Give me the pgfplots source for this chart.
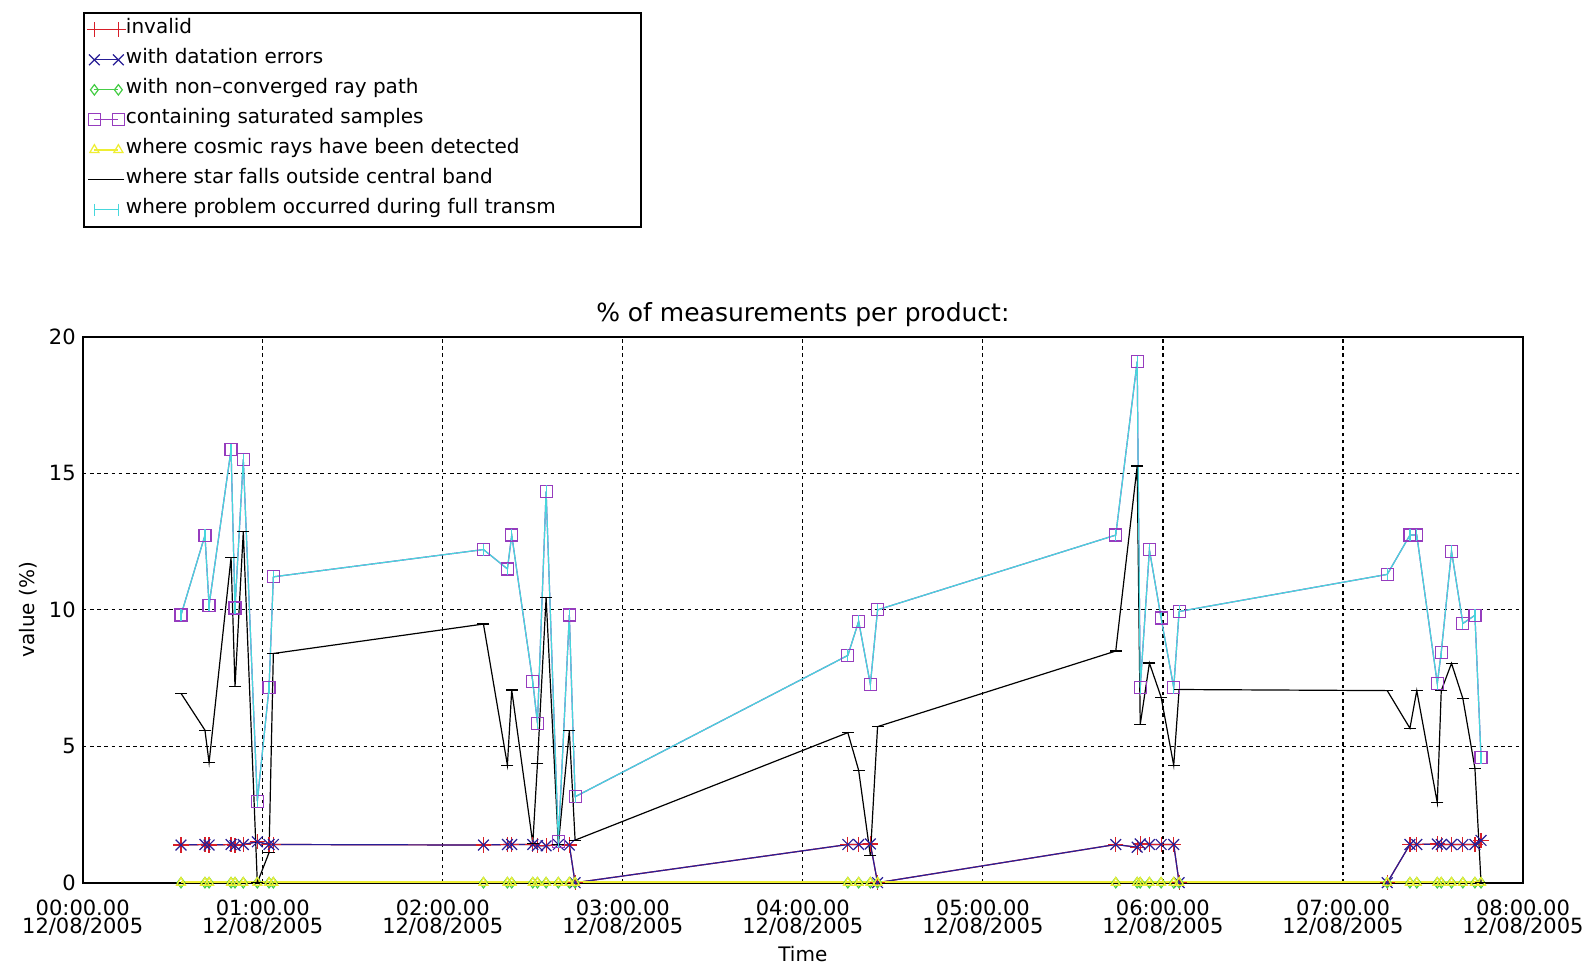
\documentclass[border=0pt]{standalone}
\usepackage{fontspec}
\setmainfont{DejaVu Sans}
\usepackage{pgfplots}
\usepackage{pgfplotstable}
\pgfplotsset{compat=1.18}

\definecolor{invred}{RGB}{215,30,40}
\definecolor{datblue}{RGB}{40,30,150}
\definecolor{ncgreen}{RGB}{70,205,70}
\definecolor{satpurple}{RGB}{150,60,190}
\definecolor{cosyellow}{RGB}{238,238,50}
\definecolor{ftrcyan}{RGB}{70,215,220}

% t = hours after 00:00 on 12/08/2005
\pgfplotstableread{
t     inv  dat  nc  sat    cos  star   ftr
0.546 1.38 1.38 0   9.81   0    6.94   9.81
0.679 1.40 1.40 0   12.73  0    5.59   12.73
0.702 1.38 1.38 0   10.17  0    4.40   10.17
0.824 1.40 1.40 0   15.87  0    11.92  15.87
0.846 1.36 1.36 0   10.07  0    7.18   10.07
0.892 1.40 1.40 0   15.51  0    12.86  15.51
0.970 1.50 1.50 0   2.99   0    0.00   2.99
1.035 1.40 1.40 0   7.14   0    1.10   7.14
1.059 1.40 1.40 0   11.21  0    8.40   11.21
2.226 1.38 1.38 0   12.21  0    9.48   12.21
2.359 1.40 1.40 0   11.50  0    4.31   11.50
2.383 1.40 1.40 0   12.74  0    7.06   12.74
2.500 1.40 1.40 0   7.36   0    1.44   7.36
2.526 1.36 1.36 0   5.84   0    4.37   5.84
2.574 1.35 1.35 0   14.34  0    10.45  14.34
2.642 1.40 1.40 0   1.50   0    1.40   1.50
2.703 1.38 1.38 0   9.81   0    5.57   9.81
2.735 0    0    0   3.15   0    1.56   3.15
4.250 1.40 1.40 0   8.33   0    5.50   8.33
4.310 1.40 1.40 0   9.58   0    4.12   9.58
4.375 1.42 1.42 0   7.27   0    1.00   7.27
4.415 0    0    0   10.00  0    5.72   10.00
5.738 1.40 1.40 0   12.74  0    8.49   12.74
5.857 1.30 1.30 0   19.10  0    15.27  19.10
5.874 1.42 1.42 0   7.15   0    5.80   7.15
5.925 1.40 1.40 0   12.20  0    8.05   12.20
5.990 1.40 1.40 0   9.70   0    6.80   9.70
6.060 1.40 1.40 0   7.15   0    4.30   7.15
6.090 0    0    0   9.94   0    7.08   9.94
7.246 0    0    0   11.30  0    7.04   11.30
7.372 1.40 1.40 0   12.74  0    5.66   12.74
7.410 1.40 1.40 0   12.74  0    7.04   12.74
7.524 1.42 1.42 0   7.30   0    2.93   7.30
7.546 1.40 1.40 0   8.45   0    7.04   8.45
7.603 1.40 1.40 0   12.15  0    8.04   12.15
7.666 1.40 1.40 0   9.50   0    6.75   9.50
7.733 1.40 1.40 0   9.80   0    4.20   9.80
7.767 1.55 1.55 0   4.58   0    0.00   4.58
}\qcdata

\begin{document}
\begin{tikzpicture}
\useasboundingbox (0bp,0bp) rectangle (797bp,483.5bp);
\begin{axis}[
    at={(41.35bp,42.15bp)}, anchor=south west,
    scale only axis,
    width=720.15bp, height=272.85bp,
    xmin=0, xmax=8, ymin=0, ymax=20,
    xtick={0,1,2,3,4,5,6,7,8},
    ytick={0,5,10,15,20},
    xticklabels={{00:00.00\\12/08/2005},{01:00.00\\12/08/2005},{02:00.00\\12/08/2005},
                 {03:00.00\\12/08/2005},{04:00.00\\12/08/2005},{05:00.00\\12/08/2005},
                 {06:00.00\\12/08/2005},{07:00.00\\12/08/2005},{08:00.00\\12/08/2005}},
    /pgf/number format/assume math mode=true,
    xticklabel style={align=center, inner sep=0pt, yshift=-8.6bp,
                      font=\fontsize{10.5bp}{9bp}\selectfont},
    yticklabel style={font=\fontsize{10.5bp}{12bp}\selectfont},
    major tick length=0pt,
    grid=major,
    major grid style={black, line width=0.6bp, dash pattern=on 1.8bp off 1.8bp},
    axis line style={line width=1bp},
    every axis title shift=0pt,
    title={\% of measurements per product:},
    title style={at={(0.5,1.0403)}, anchor=center,
                 font=\fontsize{12.5bp}{15bp}\selectfont},
    xlabel={Time},
    xlabel style={at={(0.5,-0.1305)}, anchor=center, font=\fontsize{10bp}{12bp}\selectfont},
    ylabel={value (\%)},
    ylabel style={at={(-0.0379,0.5)}, anchor=center, font=\fontsize{10bp}{12bp}\selectfont},
    every axis plot/.append style={line width=0.6bp},
    legend image code/.code={\draw[mark repeat=1,#1] plot coordinates {(0bp,0bp) (12bp,0bp)};},
    legend cell align=left,
    legend style={at={(0.0002,1.5955)}, anchor=north west, draw=black, line width=0.8bp,
                  fill=white, inner xsep=1.5bp, inner ysep=1bp, row sep=0pt,
                  font=\fontsize{10bp}{12bp}\selectfont,
                  nodes={inner sep=0pt, text height=9.5bp, text depth=5.5bp}},
]
\addplot[color=invred, mark=+, mark size=3.8bp, mark options={solid}] table[x=t,y=inv] {\qcdata};
\addlegendentry{invalid}
\addplot[color=datblue, mark=x, mark size=3.8bp, mark options={solid}] table[x=t,y=dat] {\qcdata};
\addlegendentry{with datation errors}
\addplot[color=ncgreen, mark=diamond, mark size=2.6bp, mark options={solid}] table[x=t,y=nc] {\qcdata};
\addlegendentry{with non--converged ray path}
\addplot[color=satpurple, mark=square, mark size=3bp, mark options={solid}] table[x=t,y=sat] {\qcdata};
\addlegendentry{containing saturated samples}
\addplot[color=cosyellow, line width=1.3bp, mark=triangle, mark size=2.6bp, mark options={solid, line width=0.6bp}] table[x=t,y=cos] {\qcdata};
\addlegendentry{where cosmic rays have been detected}
\addplot[color=black, mark=-, mark size=3bp, mark options={solid}] table[x=t,y=star] {\qcdata};
\addlegendentry{where star falls outside central band}
\addplot[color=ftrcyan, mark=|, mark size=3bp, mark options={solid}] table[x=t,y=ftr] {\qcdata};
\addlegendentry{\makebox[256bp][l]{where problem occurred during full transm}}
\end{axis}
\end{tikzpicture}
\end{document}
